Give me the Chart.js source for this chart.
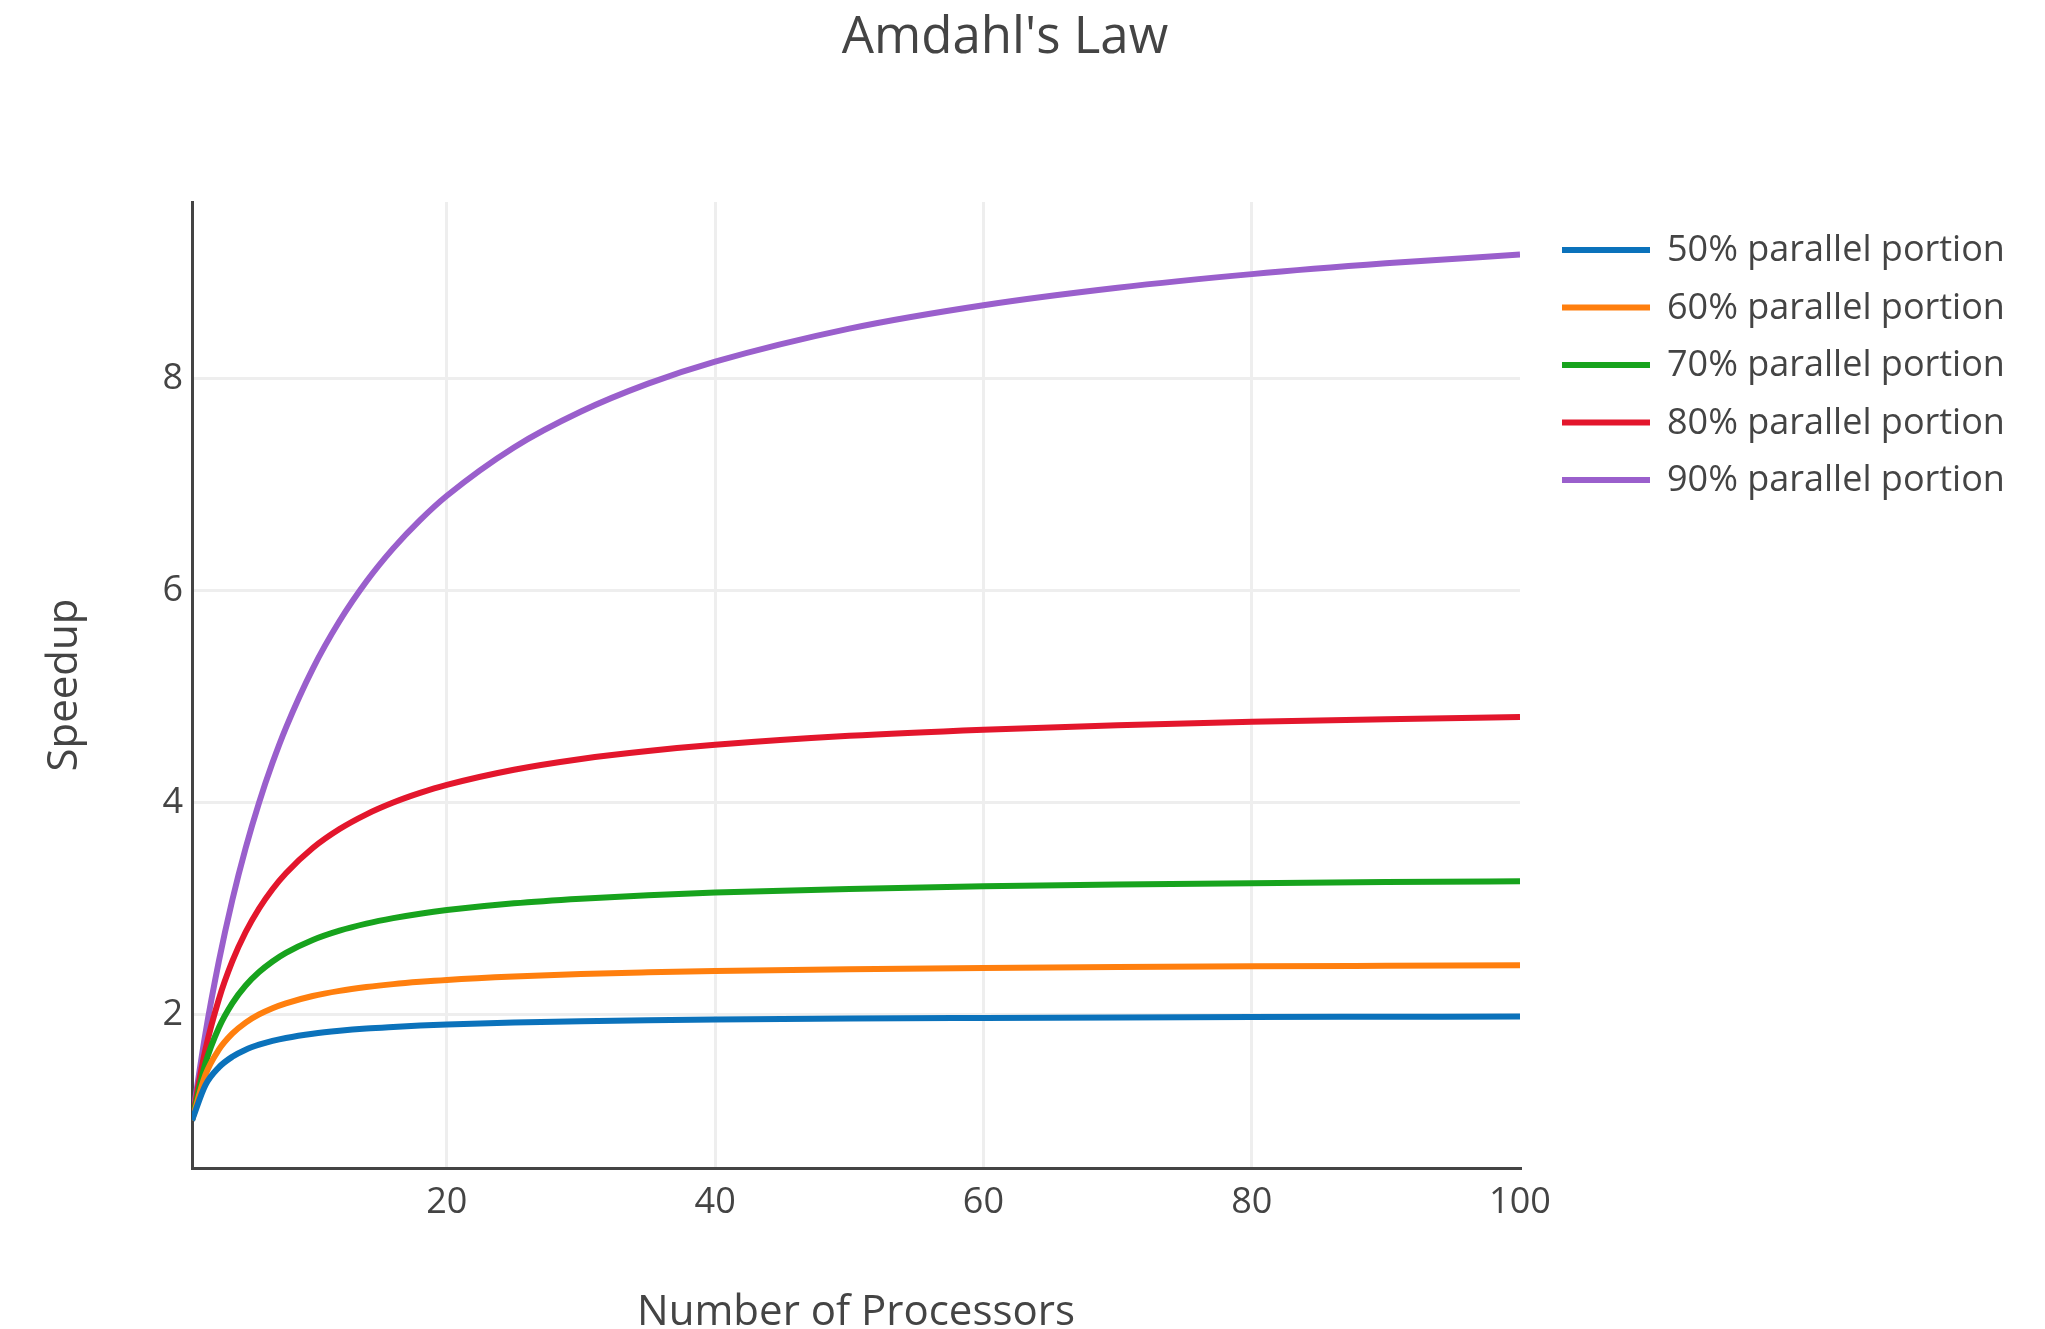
<!DOCTYPE html>
<html>
<head>
<meta charset="utf-8">
<script src="https://cdn.jsdelivr.net/npm/chart.js@4/dist/chart.umd.min.js"></script>
<style>
  html, body { margin: 0; padding: 0; background: #fff; }
  #wrap { width: 2045px; height: 1329px; }
</style>
</head>
<body>
<div id="wrap"><canvas id="myChart" width="2045" height="1329"></canvas></div>
<script>
// values
const processors = [1, 2, 3, 4, 5, 6, 7, 8, 10, 12, 14, 16, 18, 20, 25, 30, 35, 40, 50, 60, 70, 80, 90, 100];
const p50 = [1, 1.333, 1.5, 1.6, 1.667, 1.714, 1.75, 1.778, 1.818, 1.846, 1.867, 1.882, 1.895, 1.905, 1.923, 1.935, 1.944, 1.951, 1.961, 1.967, 1.972, 1.975, 1.978, 1.98];
const p60 = [1, 1.429, 1.667, 1.818, 1.923, 2.0, 2.059, 2.105, 2.174, 2.222, 2.258, 2.286, 2.308, 2.326, 2.358, 2.381, 2.397, 2.41, 2.427, 2.439, 2.448, 2.454, 2.459, 2.463];
const p70 = [1, 1.538, 1.875, 2.105, 2.273, 2.4, 2.5, 2.581, 2.703, 2.791, 2.857, 2.909, 2.951, 2.985, 3.049, 3.093, 3.125, 3.15, 3.185, 3.209, 3.226, 3.239, 3.249, 3.257];
const p80 = [1, 1.667, 2.143, 2.5, 2.778, 3.0, 3.182, 3.333, 3.571, 3.75, 3.889, 4.0, 4.091, 4.167, 4.31, 4.412, 4.487, 4.545, 4.63, 4.688, 4.73, 4.762, 4.787, 4.808];
const p90 = [1, 1.818, 2.5, 3.077, 3.571, 4.0, 4.375, 4.706, 5.263, 5.714, 6.087, 6.4, 6.667, 6.897, 7.353, 7.692, 7.955, 8.163, 8.475, 8.696, 8.861, 8.989, 9.091, 9.174];

const seriesNames = ["50% parallel portion", "60% parallel portion", "70% parallel portion", "80% parallel portion", "90% parallel portion"];
const seriesColors = ["#0b72bb", "#ff7f0e", "#17a31d", "#e3162c", "#9a5fcc"];
const xTicks = [20, 40, 60, 80, 100];
const yTicks = [2, 4, 6, 8];
const chartTitle = "Amdahl's Law";

const FONT = "'Open Sans', 'Noto Sans', sans-serif";
const TEXT = "#444";

function pts(ys) {
    return processors.map((x, i) => ({ x: x, y: ys[i] }));
}

const allSeries = [p50, p60, p70, p80, p90];
const datasets = allSeries.map((ys, i) => ({
    label: seriesNames[i],
    data: pts(ys),
    borderColor: seriesColors[i],
    backgroundColor: seriesColors[i],
    borderWidth: 6,
    pointRadius: 0,
    fill: false,
    cubicInterpolationMode: "monotone",
}));

// title + legend, placed like the reference (plot sits left of the legend)
const decorations = {
    id: "decorations",
    afterDraw(chart) {
        const c = chart.ctx;
        const a = chart.chartArea;
        c.save();
        c.fillStyle = TEXT;
        c.font = "51px " + FONT;
        c.textAlign = "center";
        c.textBaseline = "middle";
        c.fillText(chartTitle, 1005, 38);

        c.font = "36px " + FONT;
        c.textAlign = "left";
        chart.data.datasets.forEach((ds, i) => {
            const y = a.top + 48 + i * 57.5;
            c.strokeStyle = ds.borderColor;
            c.lineWidth = 6;
            c.beginPath();
            c.moveTo(a.right + 42, y);
            c.lineTo(a.right + 130, y);
            c.stroke();
            c.fillStyle = TEXT;
            c.fillText(ds.label, a.right + 147, y + 1);
        });
        c.restore();
    }
};

const ctx = document.getElementById("myChart").getContext("2d");
const myChart = new Chart(ctx, {
    type: "line",
    data: { datasets: datasets },
    plugins: [decorations],
    options: {
        responsive: false,
        animation: false,
        layout: { padding: { left: 0, right: 525, top: 202, bottom: 0 } },
        plugins: {
            legend: { display: false },
            tooltip: { enabled: false },
            title: { display: false },
        },
        scales: {
            x: {
                type: "linear",
                min: 1,
                max: 100,
                afterBuildTicks: (s) => { s.ticks = xTicks.map(v => ({ value: v })); },
                afterFit: (s) => { s.height = 161; s.paddingLeft = 0; s.paddingRight = 0; },
                ticks: {
                    color: TEXT,
                    font: { family: FONT, size: 36 },
                    padding: 13,
                    maxRotation: 0,
                },
                grid: {
                    drawTicks: false,
                    lineWidth: 3,
                    color: (c) => (c.tick && c.tick.value === 100 ? "rgba(0,0,0,0)" : "#eeeeee"),
                },
                border: { display: true, color: TEXT, width: 3 },
                title: {
                    display: true,
                    text: "Number of Processors",
                    color: TEXT,
                    font: { family: FONT, size: 42 },
                    padding: { top: 0, bottom: -9 },
                },
            },
            y: {
                type: "linear",
                min: 0.55,
                max: 9.67,
                afterBuildTicks: (s) => { s.ticks = yTicks.map(v => ({ value: v })); },
                afterFit: (s) => { s.width = 192; s.paddingTop = 0; s.paddingBottom = 0; },
                ticks: {
                    color: TEXT,
                    font: { family: FONT, size: 36 },
                    padding: 9,
                },
                grid: {
                    drawTicks: false,
                    lineWidth: 3,
                    color: "#eeeeee",
                },
                border: { display: true, color: TEXT, width: 3 },
                title: {
                    display: true,
                    text: "Speedup",
                    color: TEXT,
                    font: { family: FONT, size: 42 },
                    padding: { top: 40, bottom: 0 },
                },
            },
        },
    },
});
</script>
</body>
</html>
